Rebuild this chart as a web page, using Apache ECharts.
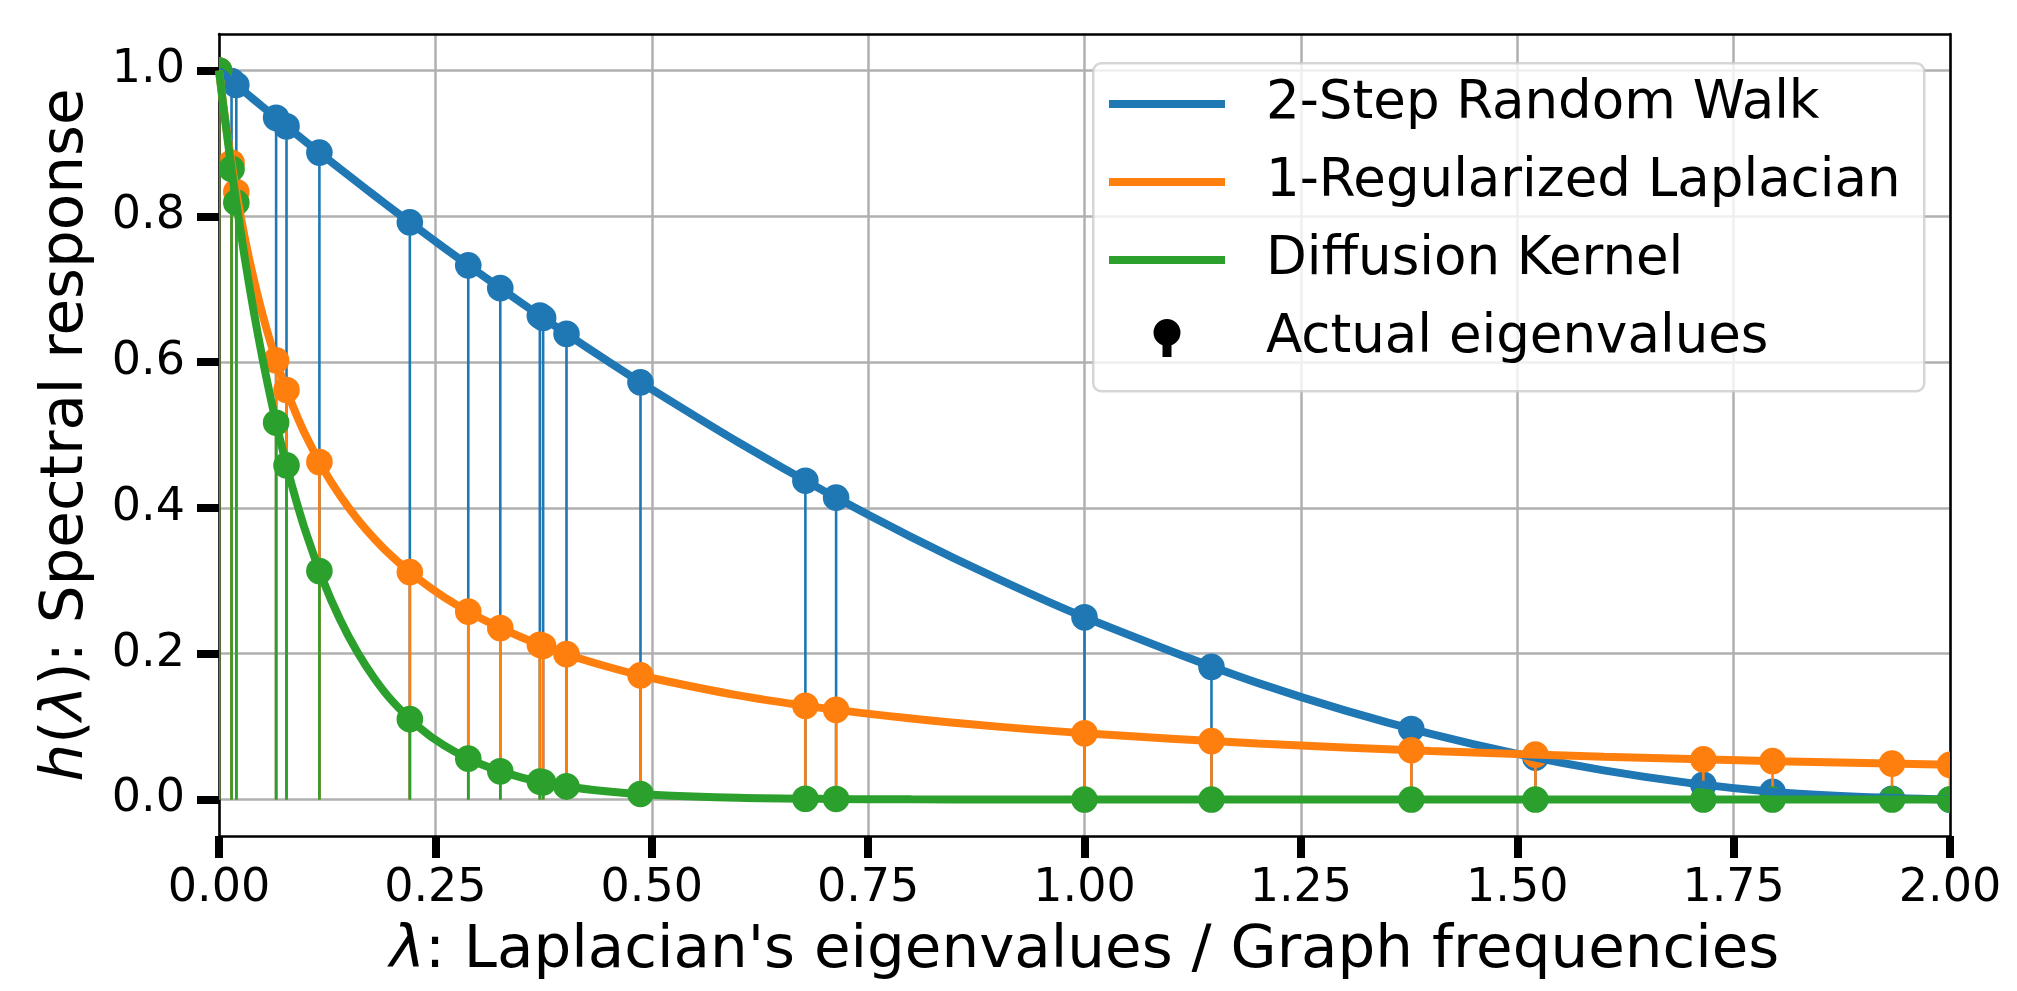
<!DOCTYPE html>
<html>
<head>
<meta charset="utf-8">
<title>Spectral response of graph filters</title>
<script src="https://cdn.jsdelivr.net/npm/echarts@6.0.0/dist/echarts.min.js"></script>
<style>
    html, body { margin: 0; padding: 0; background: #fff; }
    #chart { width: 2017px; height: 991px; }
</style>
</head>
<body>
<div id="chart"></div>
<script>
// values
var eigenvalues = [0, 0.0145, 0.020, 0.066, 0.078, 0.116, 0.2205, 0.288, 0.325, 0.3707, 0.3745, 0.4015,
    0.487, 0.6775, 0.713, 1.0, 1.1467, 1.3776, 1.521, 1.715, 1.795, 1.933, 2.0];
var walkAtEig = [1.0, 0.9856, 0.9801, 0.9351, 0.9235, 0.8874, 0.7917, 0.7327, 0.7014, 0.6637, 0.6606, 0.6388,
    0.5723, 0.4373, 0.4141, 0.25, 0.182, 0.0968, 0.0574, 0.0203, 0.0105, 0.0011, 0];
var regAtEig = [1.0, 0.8734, 0.8333, 0.6024, 0.5618, 0.463, 0.312, 0.2577, 0.2353, 0.2124, 0.2107, 0.1994,
    0.1704, 0.1286, 0.123, 0.0909, 0.0802, 0.0677, 0.0617, 0.0551, 0.0528, 0.0492, 0.0476];
var diffAtEig = [1.0, 0.865, 0.8187, 0.5169, 0.4584, 0.3135, 0.1103, 0.0561, 0.0388, 0.0246, 0.0236, 0.018,
    0.0077, 0.0011, 0.0008, 0, 0, 0, 0, 0, 0, 0, 0];

// points along the three continuous responses
var curveX = [0, 0.005, 0.01, 0.015, 0.02, 0.03, 0.04, 0.05, 0.06, 0.07, 0.08, 0.09, 0.1, 0.12, 0.14, 0.16,
    0.18, 0.2, 0.23, 0.26, 0.3, 0.35, 0.4, 0.45, 0.5, 0.6, 0.7, 0.8, 0.9, 1.0, 1.2, 1.4, 1.6, 1.8, 2.0];
var walkCurve = [1, 0.995, 0.99, 0.9851, 0.9801, 0.9702, 0.9604, 0.9506, 0.9409, 0.9312, 0.9216, 0.912, 0.9025,
    0.8836, 0.8649, 0.8464, 0.8281, 0.81, 0.7832, 0.7569, 0.7225, 0.6806, 0.64, 0.6006, 0.5625, 0.49, 0.4225,
    0.36, 0.3025, 0.25, 0.16, 0.09, 0.04, 0.01, 0];
var regCurve = [1, 0.9524, 0.9091, 0.8696, 0.8333, 0.7692, 0.7143, 0.6667, 0.625, 0.5882, 0.5556, 0.5263, 0.5,
    0.4545, 0.4167, 0.3846, 0.3571, 0.3333, 0.303, 0.2778, 0.25, 0.2222, 0.2, 0.1818, 0.1667, 0.1429, 0.125,
    0.1111, 0.1, 0.0909, 0.0769, 0.0667, 0.0588, 0.0526, 0.0476];
var diffCurve = [1, 0.9512, 0.9048, 0.8607, 0.8187, 0.7408, 0.6703, 0.6065, 0.5488, 0.4966, 0.4493, 0.4066,
    0.3679, 0.3012, 0.2466, 0.2019, 0.1653, 0.1353, 0.1003, 0.0743, 0.0498, 0.0302, 0.0183, 0.0111, 0.0067,
    0.0025, 0.0009, 0.0003, 0.0001, 0, 0, 0, 0, 0, 0];

var filterNames = ['2-Step Random Walk', '1-Regularized Laplacian', 'Diffusion Kernel'];
var stemName = 'Actual eigenvalues';
var yTicks = [0, 0.2, 0.4, 0.6, 0.8, 1.0];
</script>
<script>
(function () {
    "use strict";

    var FONT = 'DejaVu Sans';
    var colors = ['#1f77b4', '#ff7f0e', '#2ca02c'];

    function pairs(xs, ys) {
        return xs.map(function (x, i) {
            return [x, ys[i]];
        });
    }

    // stem + head drawn through the axis scales
    function renderStem(params, api) {
        var x = api.value(0);
        var base = api.coord([x, 0]);
        var head = api.coord([x, api.value(1)]);
        var color = api.visual('color');
        return {
            type: 'group',
            children: [{
                type: 'line',
                shape: { x1: base[0], y1: base[1], x2: head[0], y2: head[1] },
                style: { stroke: color, lineWidth: 2.6 }
            }, {
                type: 'circle',
                shape: { cx: head[0], cy: head[1], r: 13.3 },
                style: { fill: color }
            }]
        };
    }

    function curveSeries(idx, ys) {
        return {
            name: filterNames[idx],
            type: 'line',
            data: pairs(curveX, ys),
            smooth: 0.3,
            symbol: 'none',
            clip: true,
            lineStyle: { color: colors[idx], width: 8 },
            itemStyle: { color: colors[idx] },
            z: 2
        };
    }

    function stemSeries(idx, ys) {
        return {
            name: stemName,
            type: 'custom',
            data: pairs(eigenvalues, ys),
            encode: { x: 0, y: 1 },
            clip: true,
            itemStyle: { color: colors[idx] },
            renderItem: renderStem,
            z: 2
        };
    }

    // lollipop icon for the legend, padded to a 116x38 box by two tiny corner triangles
    var stemIcon = 'path://M0,0 L0.01,0 L0,0.01 Z M116,38 L115.99,38 L116,37.99 Z ' +
        'M44.5,13.5 A13.5,13.5 0 1 1 71.5,13.5 A13.5,13.5 0 1 1 44.5,13.5 Z ' +
        'M53.5,24 L62.5,24 L62.5,38 L53.5,38 Z';

    function legendText() {
        return {
            fontSize: 53,
            color: '#000',
            fontFamily: FONT,
            lineHeight: 60,
            padding: [0, 0, 0, 36]
        };
    }

    function nameStyle() {
        return {
            fontSize: 59.5,
            color: '#000',
            fontFamily: FONT,
            rich: { it: { fontSize: 59.5, fontStyle: 'italic', fontFamily: FONT, color: '#000' } }
        };
    }

    var option = {
        animation: false,
        backgroundColor: '#fff',
        textStyle: { fontFamily: FONT },
        grid: {
            left: 219,
            right: 67,
            top: 34,
            bottom: 155,
            containLabel: false,
            outerBoundsMode: 'none'
        },
        xAxis: [{
            type: 'value',
            min: 0,
            max: 2,
            interval: 0.25,
            axisLine: { show: true, onZero: false, lineStyle: { color: '#000', width: 2.5 } },
            axisTick: { show: true, inside: false, length: 22, lineStyle: { color: '#000', width: 8 } },
            axisLabel: {
                margin: 30,
                fontSize: 46,
                color: '#000',
                fontFamily: FONT,
                formatter: function (v) { return v.toFixed(2); }
            },
            splitLine: { show: true, lineStyle: { color: '#b0b0b0', width: 2.5 } },
            name: '{it|\u03bb}: Laplacian\'s eigenvalues / Graph frequencies',
            nameLocation: 'middle',
            nameGap: 86,
            nameTextStyle: nameStyle()
        }, {
            type: 'value',
            position: 'top',
            min: 0,
            max: 2,
            axisLine: { show: true, onZero: false, lineStyle: { color: '#000', width: 2.5 } },
            axisTick: { show: false },
            axisLabel: { show: false },
            splitLine: { show: false }
        }],
        yAxis: [{
            type: 'value',
            min: -0.05,
            max: 1.05,
            axisLine: { show: true, onZero: false, lineStyle: { color: '#000', width: 2.5 } },
            axisTick: {
                show: true, inside: false, length: 22, customValues: yTicks,
                lineStyle: { color: '#000', width: 8 }
            },
            axisLabel: {
                margin: 34,
                fontSize: 46,
                color: '#000',
                fontFamily: FONT,
                customValues: yTicks,
                formatter: function (v) { return v.toFixed(1); }
            },
            splitLine: { show: true, lineStyle: { color: '#b0b0b0', width: 2.5 } },
            name: '{it|h}({it|\u03bb}): Spectral response',
            nameLocation: 'middle',
            nameGap: 122,
            nameTextStyle: nameStyle()
        }, {
            type: 'value',
            position: 'right',
            min: -0.05,
            max: 1.05,
            axisLine: { show: true, onZero: false, lineStyle: { color: '#000', width: 2.5 } },
            axisTick: { show: false },
            axisLabel: { show: false },
            splitLine: { show: false }
        }],
        graphic: [{
            type: 'rect',
            left: 1092,
            top: 62,
            shape: { width: 831, height: 328, r: 8 },
            style: { fill: 'rgba(255,255,255,0.8)', stroke: 'rgba(204,204,204,0.8)', lineWidth: 2.5 },
            z: 10
        }],
        legend: [{
            data: filterNames.map(function (n) { return { name: n, icon: 'rect' }; }),
            orient: 'vertical',
            left: 1109,
            top: 74,
            padding: 0,
            itemWidth: 116,
            itemHeight: 8,
            itemGap: 18,
            selectedMode: false,
            textStyle: legendText(),
            z: 12
        }, {
            data: [{ name: stemName, icon: stemIcon, itemStyle: { color: '#000' } }],
            orient: 'vertical',
            left: 1109,
            top: 308,
            padding: 0,
            itemWidth: 116,
            itemHeight: 38,
            symbolKeepAspect: false,
            selectedMode: false,
            textStyle: legendText(),
            z: 12
        }],
        series: [
            curveSeries(0, walkCurve),
            stemSeries(0, walkAtEig),
            curveSeries(1, regCurve),
            stemSeries(1, regAtEig),
            curveSeries(2, diffCurve),
            stemSeries(2, diffAtEig)
        ]
    };

    var chart = echarts.init(document.getElementById('chart'), null, { renderer: 'canvas' });
    chart.setOption(option);
})();
</script>
</body>
</html>
